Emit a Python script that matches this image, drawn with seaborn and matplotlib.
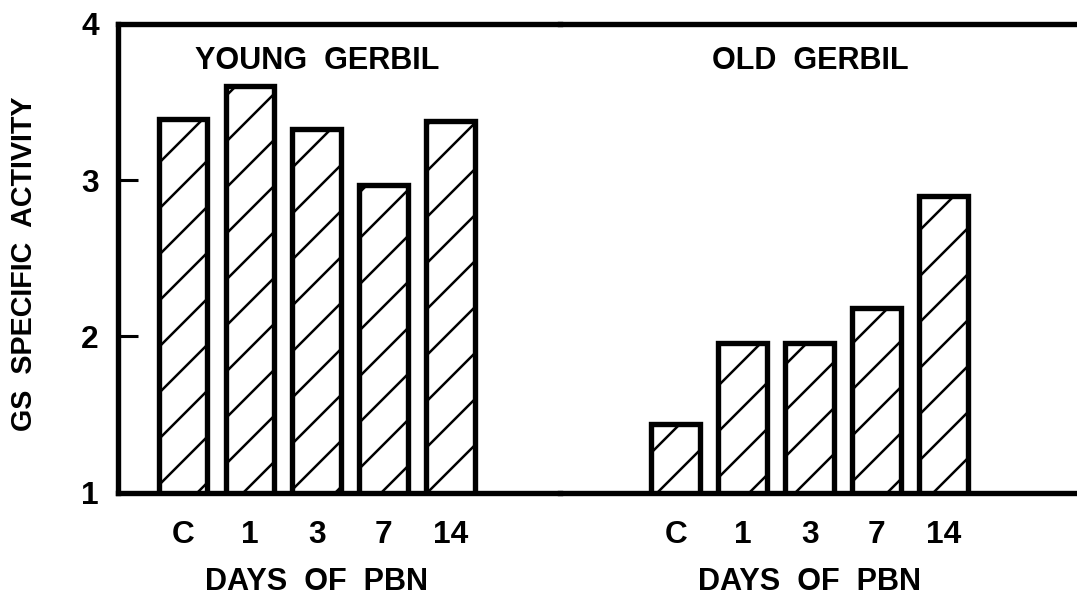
import matplotlib
matplotlib.use('Agg')
import matplotlib.pyplot as plt
import seaborn as sns
import pandas as pd

# datos
days = ['C', '1', '3', '7', '14']
young = [3.39, 3.60, 3.33, 2.97, 3.38]
old = [1.44, 1.96, 1.96, 2.18, 2.90]
group_titles = ['YOUNG  GERBIL', 'OLD  GERBIL']
y_ticks = [1, 2, 3, 4]

sns.set_theme(style='white')
plt.rcParams['font.family'] = ['Liberation Sans', 'DejaVu Sans']
plt.rcParams['hatch.linewidth'] = 1.3
plt.rcParams['hatch.color'] = 'black'

DPI = 138
fig = plt.figure(figsize=(1077 / DPI, 595 / DPI), dpi=DPI)
ax1 = fig.add_axes([0.1096, 0.1719, 0.4104, 0.7878])
ax2 = fig.add_axes([0.5200, 0.1719, 0.4800, 0.7878])

df_young = pd.DataFrame({'day': days, 'gs': young})
df_old = pd.DataFrame({'day': days, 'gs': old})

for ax, df, title in [(ax1, df_young, group_titles[0]), (ax2, df_old, group_titles[1])]:
    sns.barplot(data=df, x='day', y='gs', order=days, ax=ax, color='white',
                edgecolor='black', linewidth=2.8, hatch='/', width=0.73,
                saturation=1, errorbar=None)
    ax.set_ylim(1, 4)
    ax.set_xlabel('')
    ax.set_ylabel('')
    ax.tick_params(axis='x', length=0, pad=14, labelsize=16.5, labelcolor='black')
    for lbl in ax.get_xticklabels():
        lbl.set_fontweight('bold')
    ax.text(2, 3.76, title, ha='center', va='center', fontsize=16,
            fontweight='bold', color='black')
    ax.text(2, -0.19, 'DAYS  OF  PBN', ha='center', va='center', fontsize=16,
            fontweight='bold', color='black', transform=ax.get_xaxis_transform())
    for side in ['top', 'bottom', 'left', 'right']:
        ax.spines[side].set_color('black')
        ax.spines[side].set_linewidth(2.8)
    ax.patch.set_alpha(0)

ax1.set_xlim(-0.97, 5.63)
ax2.set_xlim(-1.73, 5.99)

ax1.spines['right'].set_visible(False)
ax2.spines['left'].set_visible(False)
ax2.spines['right'].set_visible(False)

ax1.set_yticks(y_ticks)
ax1.set_yticklabels([str(t) for t in y_ticks], fontsize=16.5, fontweight='bold')
ax1.tick_params(axis='y', direction='in', length=10.5, width=1.6, pad=10,
                left=True, color='black', labelcolor='black')
ax2.set_yticks([])

fig.text(24.5 / 1077, 1 - 264 / 595, 'GS  SPECIFIC  ACTIVITY', rotation=90,
         ha='center', va='center', fontsize=15, fontweight='bold', color='black')

fig.savefig('out.png', dpi=DPI)
